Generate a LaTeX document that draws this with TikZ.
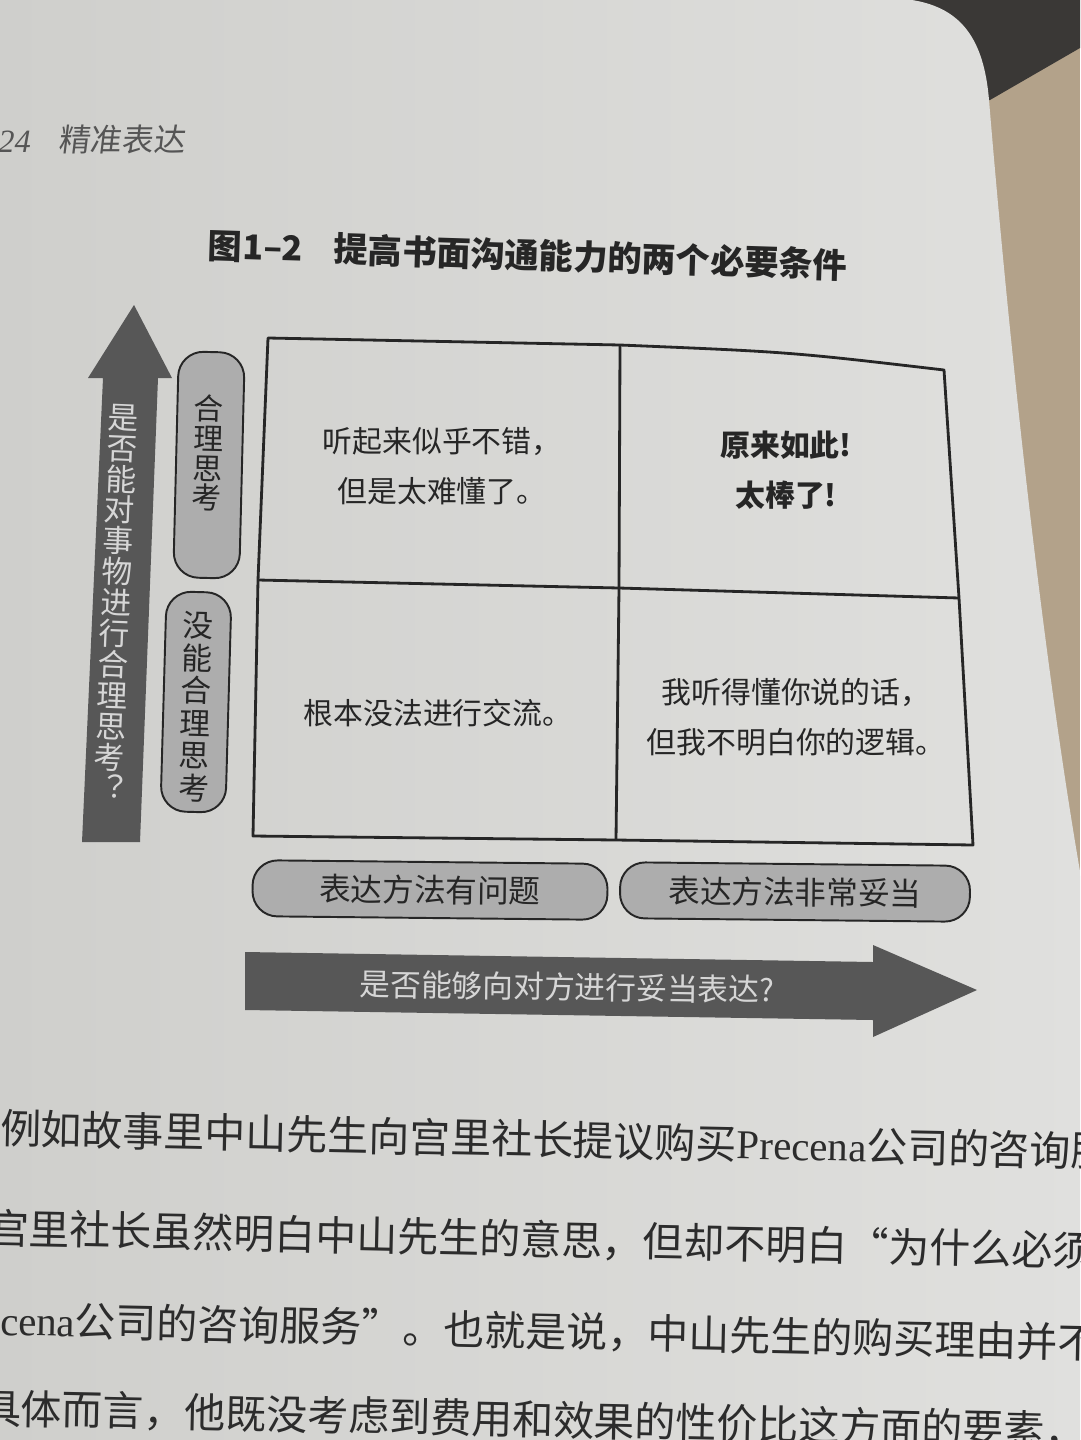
\documentclass[tikz,border=0pt]{standalone}
\usepackage{fontspec}
\setmainfont{Liberation Serif}
\newfontfamily\cjk{Noto Sans CJK SC}
\newfontfamily\cjkslant[FakeSlant=0.12]{Noto Sans CJK SC}
\newcommand{\fsz}[2]{\fontsize{#1}{#2}\selectfont}

\definecolor{backdrop}{HTML}{B3A28A}
\definecolor{shadowcol}{HTML}{3A3836}
\definecolor{paperdark}{HTML}{CFCFCC}
\definecolor{paperlight}{HTML}{E0E0DE}
\definecolor{ink}{HTML}{262626}
\definecolor{headink}{HTML}{555555}
\definecolor{bodyink}{HTML}{2C2C2C}
\definecolor{arrowgray}{HTML}{575757}
\definecolor{arrowtext}{HTML}{D6D6D6}
\definecolor{pillgray}{HTML}{ADADAD}

\begin{document}
\begin{tikzpicture}[x=0.02cm,y=-0.02cm,
  gridline/.style={draw=ink, line width=1.6pt, line join=round},
  pill/.style={draw=ink, line width=1.1pt, fill=pillgray, rounded corners=0.5cm,
               inner sep=0pt, text=ink, align=center},
  pilltext/.style={inner sep=0pt, text=ink, align=center},
  quad/.style={font=\cjk\fsz{17}{28.5}, align=center, text=ink, inner sep=0pt},
  bigarrow/.style={fill=arrowgray},
  arrowlabel/.style={text=arrowtext, inner sep=0pt, align=center},
  bodyline/.style={anchor=west, inner sep=0pt, text=bodyink,
                   font=\cjk\fsz{23.3}{28}, rotate=-1.2},
]
\useasboundingbox (0,0) rectangle (1080,1440);
\begin{scope}
\clip (0,0) rectangle (1080,1440);

% desk behind the page and the dark corner
\fill[backdrop] (0,0) rectangle (1080,1440);
\fill[shadowcol] (880,0) -- (1080,0) -- (1080,48) -- (990,100) -- (940,100) -- cycle;

% the page with its curled right edge
\shade[left color=paperdark, right color=paperlight]
  (0,0) -- (912,0) .. controls (962,8) and (984,40) .. (989,100)
  .. controls (1008,330) and (1042,660) .. (1085,900)
  -- (1085,1440) -- (0,1440) -- cycle;

% running head
\node[anchor=west, inner sep=0pt, font=\itshape\fsz{18.5}{20}, text=headink]
  (pgnum) at (-2,142) {24};
\node[anchor=west, inner sep=0pt, font=\cjkslant\fsz{18}{20}, text=headink]
  (running) at (58,139) {精准表达};

% figure caption
\node[font=\cjk\bfseries\fsz{19.5}{22}, text=ink, rotate=-1.8, inner sep=0pt]
  (title) at (528,255) {图1–2\hspace{0.9em}提高书面沟通能力的两个必要条件};

% vertical axis arrow
\fill[bigarrow] (82,842) -- (140,842) -- (158,378) -- (172,378) -- (134,305)
  -- (88,378) -- (103,378) -- cycle;
\node[arrowlabel, font=\cjk\fsz{17.5}{17.6}, rotate=-2.3] (yaxis) at (116,602)
  {是\\否\\能\\对\\事\\物\\进\\行\\合\\理\\思\\考\\︖};

% row labels
\node[pill, minimum width=1.32cm, minimum height=4.52cm, rotate=-1.4]
  (rowtop) at (209,465) {};
\node[pilltext, font=\cjk\fsz{17}{17}, rotate=-1.4] (rowtoptext) at (208,453)
  {合\\理\\思\\考};
\node[pill, minimum width=1.3cm, minimum height=4.4cm, rotate=-1.6]
  (rowbot) at (196,702) {};
\node[pilltext, font=\cjk\fsz{17.5}{18.5}, rotate=-1.6] (rowbottext) at (196,707)
  {没\\能\\合\\理\\思\\考};

% 2x2 grid
\coordinate (TL) at (268,338);
\coordinate (TM) at (620,345);
\coordinate (TR) at (944,370);
\coordinate (ML) at (258,580);
\coordinate (MM) at (619,588);
\coordinate (MR) at (959,598);
\coordinate (BL) at (253,836);
\coordinate (BM) at (616,840);
\coordinate (BR) at (973,845);
\draw[gridline] (TL) -- (TM) .. controls (790,352) .. (TR) -- (MR) -- (BR) -- (BM) -- (BL) -- (ML) -- cycle;
\draw[gridline] (TM) -- (MM) -- (BM);
\draw[gridline] (ML) -- (MM) -- (MR);

% quadrant texts
\node[quad] (q1) at (442,466) {听起来似乎不错，\\但是太难懂了。};
\node[quad, font=\cjk\bfseries\fsz{17}{28.5}] (q2) at (786,470) {原来如此!\\太棒了!};
\node[quad] (q3) at (438,713) {根本没法进行交流。};
\node[quad] (q4) at (796,717) {我听得懂你说的话，\\但我不明白你的逻辑。};

% column labels
\node[pill, font=\cjk\fsz{18}{20}, minimum width=7.1cm, minimum height=1.12cm,
  rotate=-0.6] (coll) at (430,890) {表达方法有问题};
\node[pill, font=\cjk\fsz{18}{20}, minimum width=7.0cm, minimum height=1.12cm,
  rotate=-0.6] (colr) at (795,892) {表达方法非常妥当};

% horizontal axis arrow
\fill[bigarrow] (245,952) -- (873,962) -- (873,945) -- (977,990) -- (873,1037)
  -- (873,1020) -- (245,1010) -- cycle;
\node[arrowlabel, font=\cjk\fsz{17.5}{20}, rotate=-0.8] (xaxis) at (567,987)
  {是否能够向对方进行妥当表达?};

% body text below the figure
\node[bodyline] (body1) at (0,1128)
  {例如故事里中山先生向宫里社长提议购买{\rmfamily Precena}公司的咨询服};
\node[bodyline] (body2) at (-12,1228)
  {宫里社长虽然明白中山先生的意思，但却不明白“为什么必须};
\node[bodyline] (body3) at (0,1320)
  {{\rmfamily cena}公司的咨询服务”。也就是说，中山先生的购买理由并不};
\node[bodyline] (body4) at (-20,1408)
  {具体而言，他既没考虑到费用和效果的性价比这方面的要素，};
\end{scope}
\end{tikzpicture}
\end{document}
